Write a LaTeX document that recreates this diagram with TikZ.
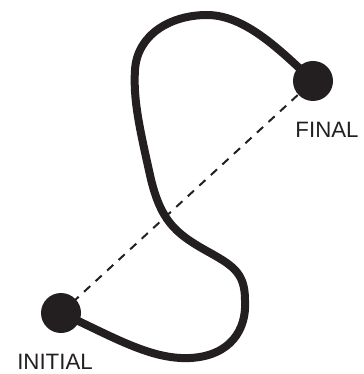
\documentclass[tikz,border=0pt]{standalone}
\usepackage{fontspec}
\setmainfont{Liberation Sans}
\usetikzlibrary{backgrounds}
\definecolor{ink}{HTML}{231F20}
\tikzset{
  state/.style={circle, fill=ink, minimum size=1.2cm, inner sep=0pt},
  statelabel/.style={font=\fontsize{19}{22}\selectfont, text=ink, inner sep=0pt},
  pathline/.style={draw=ink, line width=0.24cm, line cap=round, line join=round},
  shortcut/.style={draw=ink, line width=0.06cm, dash pattern=on 0.25cm off 0.22cm}
}
\begin{document}
\begin{tikzpicture}[x=0.03cm, y=-0.03cm]
    \useasboundingbox (0,0) rectangle (363,374);

    % End points
    \node[state] (init) at (61,313) {};
    \node[state] (fin) at (313,81) {};
    \node[statelabel] (initlabel) at (55,362) {INITIAL};
    \node[statelabel] (finlabel) at (327,130) {FINAL};

    \begin{scope}[on background layer]
      % Straight path
      \draw[shortcut] (init.center) -- (fin.center);
      % Actual path
      \draw[pathline]
        (init.center) .. controls (110,335) and (150,360) .. (190,358)
        .. controls (230,356) and (247,330) .. (245,300)
        .. controls (245,272) and (232,265) .. (205,250)
        .. controls (175,233) and (160,220) .. (150,175)
        .. controls (140,130) and (133,100) .. (135,70)
        .. controls (137,35) and (170,15) .. (207,15)
        .. controls (245,15) and (280,50) .. (fin.center);
    \end{scope}
\end{tikzpicture}
\end{document}
